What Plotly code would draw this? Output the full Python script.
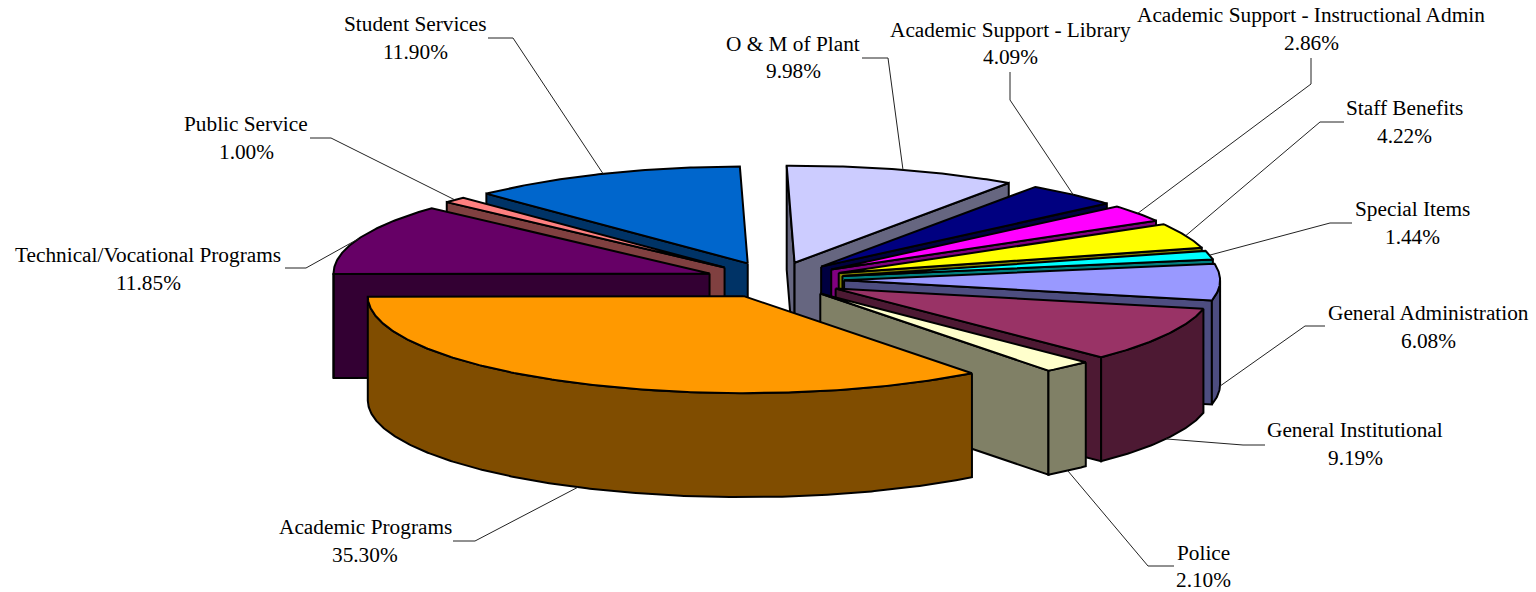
import math
import plotly.graph_objects as go

categories = ["O & M of Plant", "Academic Support - Library", "Academic Support - Instructional Admin",
              "Staff Benefits", "Special Items", "General Administration", "General Institutional",
              "Police", "Academic Programs", "Technical/Vocational Programs", "Public Service", "Student Services"]
values = [9.98, 4.09, 2.86, 4.22, 1.44, 6.08, 9.19, 2.10, 35.30, 11.85, 1.00, 11.90]
top_colors = ["#CCCCFF", "#000080", "#FF00FF", "#FFFF00", "#00FFFF", "#9999FF",
              "#993366", "#FFFFCC", "#FF9900", "#660066", "#FF8080", "#0066CC"]
side_colors = ["#666680", "#000040", "#800080", "#808000", "#008080", "#4D4D80",
               "#4D1933", "#808066", "#804D00", "#330033", "#804040", "#003366"]

# pie projection (pixels)
CX, CY, RX, RY, DEPTH = 774.5, 280, 376, 97, 104
EXPL_X, EXPL_Y = 69.6, 18
START_T = -91.2
# label anchor (centre, first line y, second line y), and leader elbow path
label_layout = {
    "O & M of Plant": (793, 44, 71, [(888, 58), (862, 58)]),
    "Academic Support - Library": (1010, 30, 57, [(1010, 100), (1010, 72)]),
    "Academic Support - Instructional Admin": (1311, 15, 43, [(1311, 84), (1311, 58)]),
    "Staff Benefits": (1404, 108, 136, [(1320, 122), (1344, 122)]),
    "Special Items": (1412, 209, 237, [(1330, 223), (1352, 223)]),
    "General Administration": (1428, 313, 341, [(1305, 326), (1325, 326)]),
    "General Institutional": (1355, 430, 458, [(1243, 445), (1265, 445)]),
    "Police": (1203, 553, 580, [(1148, 566), (1174, 566)]),
    "Academic Programs": (365, 527, 555, [(475, 541), (453, 541)]),
    "Technical/Vocational Programs": (148, 255, 283, [(306, 268), (285, 268)]),
    "Public Service": (246, 124, 152, [(331, 138), (310, 138)]),
    "Student Services": (415, 24, 52, [(513, 38), (488, 38)]),
}

fig = go.Figure()


def pt(ax, ay, t, dz=0.0):
    r = math.radians(t)
    return ax + RX * math.cos(r), ay + RY * math.sin(r) + dz


def poly(points, color):
    pts = list(points) + [points[0]]
    fig.add_trace(go.Scatter(
        x=[p[0] for p in pts], y=[p[1] for p in pts], mode="lines", fill="toself",
        fillcolor=color, line=dict(color="black", width=2, shape="linear"),
        hoverinfo="skip", showlegend=False))


total = sum(values)
slices = []
t = START_T
for name, v, top, side in zip(categories, values, top_colors, side_colors):
    t2 = t + v / total * 360
    mid = (t + t2) / 2
    rm = math.radians(mid)
    ax = CX + EXPL_X * math.cos(rm)
    ay = CY + EXPL_Y * math.sin(rm)
    slices.append(dict(name=name, t1=t, t2=t2, mid=mid, ax=ax, ay=ay, top=top, side=side))
    t = t2

for s in sorted(slices, key=lambda q: math.sin(math.radians(q["mid"]))):
    ax, ay, t1, t2 = s["ax"], s["ay"], s["t1"], s["t2"]
    # radial walls facing the viewer
    if math.cos(math.radians(t1)) < 0:
        p = pt(ax, ay, t1)
        poly([(ax, ay), p, (p[0], p[1] + DEPTH), (ax, ay + DEPTH)], s["side"])
    if math.cos(math.radians(t2)) > 0:
        p = pt(ax, ay, t2)
        poly([(ax, ay), p, (p[0], p[1] + DEPTH), (ax, ay + DEPTH)], s["side"])
    # outer curved wall: only the part with sin(t) > 0
    lo, hi = max(t1, 0), min(t2, 180)
    if hi > lo:
        n = max(2, int((hi - lo) * 2))
        ang = [lo + (hi - lo) * i / n for i in range(n + 1)]
        poly([pt(ax, ay, a) for a in ang] + [pt(ax, ay, a, DEPTH) for a in reversed(ang)], s["side"])
    # top face
    n = max(2, int((t2 - t1) * 2))
    ang = [t1 + (t2 - t1) * i / n for i in range(n + 1)]
    poly([(ax, ay)] + [pt(ax, ay, a) for a in ang], s["top"])

for s in slices:
    dz = DEPTH if math.sin(math.radians(s["mid"])) > 0 else 0
    start = pt(s["ax"], s["ay"], s["mid"], dz)
    path = [start] + label_layout[s["name"]][3]
    fig.add_trace(go.Scatter(x=[p[0] for p in path], y=[p[1] for p in path], mode="lines",
                             line=dict(color="#222222", width=1), hoverinfo="skip", showlegend=False))

annotations = []
for name, v in zip(categories, values):
    xc, y1, y2, _ = label_layout[name]
    annotations.append(dict(x=xc, y=y1, text=name, showarrow=False, xanchor="center", yanchor="middle"))
    annotations.append(dict(x=xc, y=y2, text=f"{v:.2f}%", showarrow=False, xanchor="center", yanchor="middle"))

fig.update_layout(
    width=1536, height=592, margin=dict(l=0, r=0, t=0, b=0),
    paper_bgcolor="white", plot_bgcolor="white", showlegend=False,
    font=dict(family="Liberation Serif", size=21.3, color="black"),
    xaxis=dict(range=[0, 1536], visible=False, fixedrange=True),
    yaxis=dict(range=[592, 0], visible=False, fixedrange=True),
    annotations=annotations,
)
fig.write_html("out.html", config=dict(displayModeBar=False),
               post_script="document.body.style.margin='0';document.body.style.overflow='hidden';")
